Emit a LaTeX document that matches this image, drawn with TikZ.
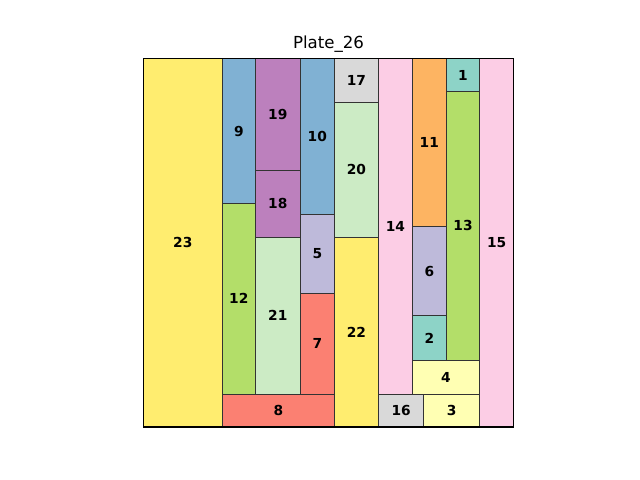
\documentclass[tikz,border=0pt]{standalone}
\usepackage{fontspec}
\setmainfont{DejaVu Sans}
\usetikzlibrary{calc}
\definecolor{sTeal}{HTML}{8DD3C7}
\definecolor{sLemon}{HTML}{FFFFB3}
\definecolor{sLav}{HTML}{BEBADA}
\definecolor{sSalmon}{HTML}{FB8072}
\definecolor{sBlue}{HTML}{80B1D3}
\definecolor{sOrange}{HTML}{FDB462}
\definecolor{sGreen}{HTML}{B3DE69}
\definecolor{sPink}{HTML}{FCCDE5}
\definecolor{sGray}{HTML}{D9D9D9}
\definecolor{sPurple}{HTML}{BC80BD}
\definecolor{sMint}{HTML}{CCEBC5}
\definecolor{sYellow}{HTML}{FFED6F}
\definecolor{edge}{HTML}{333333}
\tikzset{
  tile/.style={
    draw=edge,
    line width=0.7pt
  },
  tilelabel/.style={
    font=\bfseries\fontsize{9.8}{11}\selectfont,
    text=black,
    inner sep=0pt
  },
  frame/.style={
    draw=black,
    line width=0.8pt
  },
  titletext/.style={
    font=\fontsize{11.8}{14}\selectfont,
    text=black
  }
}

\begin{document}
\begin{tikzpicture}[x=0.025cm,y=-0.025cm]

% Background / page size
\fill[white] (0,0) rectangle (640,480);

% Title
\node[titletext] (title) at (328.5,44) {Plate\_26};

% ---------- Tiles ----------
\foreach \num/\xa/\ya/\xb/\yb/\col in {
  23/143.3/58.7/222.3/427/sYellow,
  9/222.3/58.7/255.3/203.3/sBlue,
  12/222.3/203.3/255.3/394/sGreen,
  8/222.3/394/334.3/427/sSalmon,
  19/255.3/58.7/300.3/170.3/sPurple,
  18/255.3/170.3/300.3/237.2/sPurple,
  21/255.3/237.2/300.3/394/sMint,
  10/300.3/58.7/334.3/214.3/sBlue,
  5/300.3/214.3/334.3/293.3/sLav,
  7/300.3/293.3/334.3/394/sSalmon,
  17/334.3/58.7/378.5/102/sGray,
  20/334.3/102/378.5/237.2/sMint,
  22/334.3/237.2/378.5/427/sYellow,
  14/378.5/58.7/412.3/394/sPink,
  16/378.5/394/423.7/427/sGray,
  3/423.7/394/479.7/427/sLemon,
  11/412.3/58.7/446.3/226.3/sOrange,
  6/412.3/226.3/446.3/315.7/sLav,
  2/412.3/315.7/446.3/360.3/sTeal,
  4/412.3/360.3/479.7/394/sLemon,
  1/446.3/58.7/479.7/91.3/sTeal,
  13/446.3/91.3/479.7/360.3/sGreen,
  15/479.7/58.7/513.7/427/sPink}{
  \draw[tile, fill=\col] (\xa,\ya) rectangle (\xb,\yb);
  \node[tilelabel] (t\num) at ($ (\xa,\ya)!0.5!(\xb,\yb) $) {\num};
}

% Plate outline
\draw[frame] (143.3,58.7) rectangle (513.7,427);

\end{tikzpicture}
\end{document}
